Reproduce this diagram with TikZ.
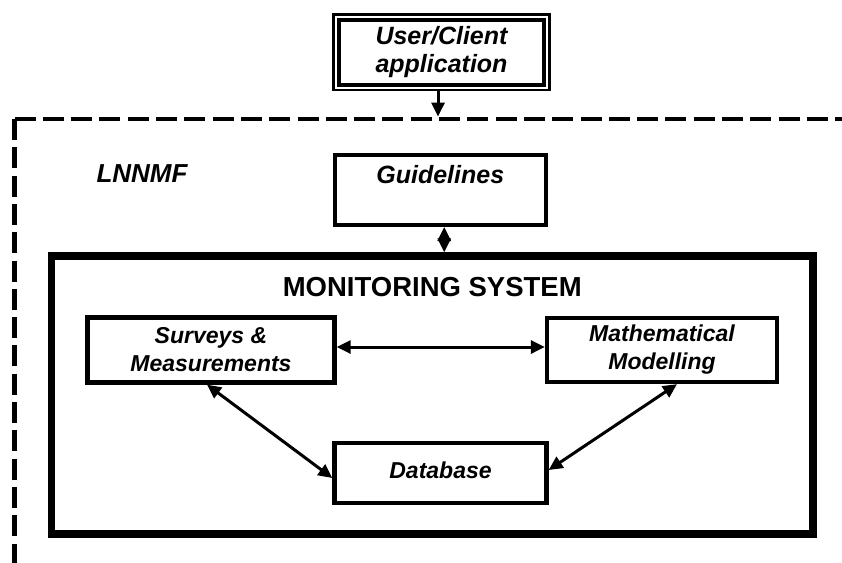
\documentclass[tikz,border=0pt]{standalone}
\usepackage{fontspec}
\setmainfont{Liberation Sans}
\usetikzlibrary{arrows.meta,fit}
\begin{document}
\begin{tikzpicture}[x=1pt,y=-1pt,
  box/.style={draw, rectangle, line width=4.3pt, inner sep=0pt, align=center,
    font=\fontsize{23}{28}\selectfont\bfseries\itshape},
  tip/.tip={Triangle[length=14pt,width=13pt]},
  conn/.style={line width=3pt, tip-tip},
  oneway/.style={line width=3pt, -tip},
  framedash/.style={line width=4.7pt, dash pattern=on 21pt off 7.3pt}]

\useasboundingbox (0,0) rectangle (842,562);

% outer dashed boundary of the framework
\coordinate (corner) at (14.5,119);
\coordinate (frameright) at (850,119);
\coordinate (framebottom) at (14.5,566);
\coordinate (entry) at (438,116.6);
\draw[framedash] (corner) -- (frameright);
\draw[framedash] (corner) -- (framebottom);

% client application (double border)
\node[box, line width=4pt, minimum width=205pt, minimum height=64.5pt,
  font=\fontsize{25}{27.5}\selectfont\bfseries\itshape]
  (user) at (441.5,52.25) {User/Client\\application};
\node[draw, line width=2.5pt, fit=(user), inner sep=3.5pt] (userframe) {};

\node[font=\fontsize{26}{30}\selectfont\bfseries\itshape] (lnnmf) at (142,174) {LNNMF};

% guidelines, label at the top of the box
\node[box, line width=4pt, minimum width=211.5pt, text height=28pt, text depth=42pt,
  font=\fontsize{25}{28}\selectfont\bfseries\itshape]
  (guide) at (440.25,190) {Guidelines};

% monitoring system
\node[draw, rectangle, line width=7.5pt, inner sep=0pt, minimum width=761.5pt,
  text height=40pt, text depth=238pt, font=\fontsize{27.5}{30}\selectfont\bfseries]
  (monitor) at (432.25,395) {MONITORING SYSTEM};

\node[box, minimum width=247pt, minimum height=65pt] (surveys) at (211,350) {Surveys \&\\Measurements};
\node[box, minimum width=230pt, minimum height=64pt] (math) at (662,350) {Mathematical\\Modelling};
\node[box, minimum width=212pt, minimum height=60pt, text depth=6pt] (database) at (440.5,473) {Database};

% connectors
\draw[oneway] (userframe.south -| entry) -- (entry);
\draw[conn] ([xshift=4pt]guide.south) -- ([xshift=4pt]guide.south |- monitor.north);
\draw[conn] ([yshift=3pt]surveys.east) -- ([yshift=3pt]math.west);
\draw[conn] ([xshift=-4pt]surveys.south) -- ([yshift=-5pt]database.west);
\draw[conn] ([xshift=15pt]math.south) -- ([yshift=3pt]database.east);
\end{tikzpicture}
\end{document}
